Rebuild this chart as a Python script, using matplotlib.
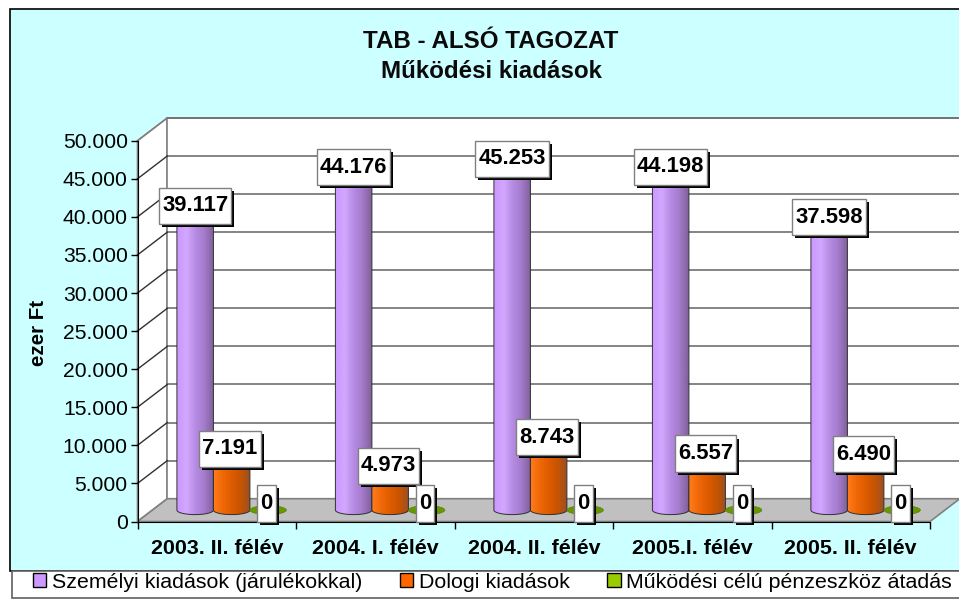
# -*- coding: utf8 -*-
"""
    TAB - also tagozat, mukodesi kiadasok (Excel style 3D cylinders)
"""
import matplotlib
matplotlib.use('Agg')
import matplotlib.pyplot as plt
from matplotlib.patches import Polygon, PathPatch, Ellipse, Patch
from matplotlib.path import Path
from matplotlib.colors import LinearSegmentedColormap
import matplotlib.patheffects as pe
import numpy as np

plt.rcParams['font.family'] = ['Liberation Sans', 'DejaVu Sans']

periods = ['2003. II. félév', '2004. I. félév', '2004. II. félév',
           '2005.I. félév', '2005. II. félév']
szemelyi = [39117, 44176, 45253, 44198, 37598]
dologi = [7191, 4973, 8743, 6557, 6490]
mukodesi = [0, 0, 0, 0, 0]
labels_sz = ['39.117', '44.176', '45.253', '44.198', '37.598']
labels_do = ['7.191', '4.973', '8.743', '6.557', '6.490']
labels_mu = ['0', '0', '0', '0', '0']
series_names = ['Személyi kiadások (járulékokkal)', 'Dologi kiadások',
                'Működési célú pénzeszköz átadás']
yticks = [0, 5000, 10000, 15000, 20000, 25000, 30000, 35000, 40000, 45000, 50000]
yticklabels = ['0', '5.000', '10.000', '15.000', '20.000', '25.000',
               '30.000', '35.000', '40.000', '45.000', '50.000']

W, H = 959, 599
fig = plt.figure(figsize=(W / 100, H / 100), dpi=100, facecolor='white')

# cyan chart area behind everything
fig.add_artist(plt.Rectangle((10 / W, 1 - 571 / H), 960 / W, 562 / H,
                             transform=fig.transFigure, fc='#CCFFFF',
                             ec='black', lw=1.2, zorder=-5))
# white strip of the legend
fig.add_artist(plt.Rectangle((12 / W, 1 - 597.5 / H), 960 / W, 26.5 / H,
                             transform=fig.transFigure, fc='white',
                             ec='#606060', lw=1.2, zorder=-4))

# front plane of the plot box
left, right, top, bottom = 137.5, 930, 140.7, 521.5
ax = fig.add_axes([left / W, 1 - bottom / H, (right - left) / W, (bottom - top) / H])
ax.set_xlim(0, 5)
ax.set_ylim(0, 50000)
ax.patch.set_alpha(0)
for s in ['top', 'right']:
    ax.spines[s].set_visible(False)

ux = 5 / (right - left)          # data units for one pixel
uy = 50000 / (bottom - top)
dx, dy = 29.8 * ux, 22.8 * uy    # depth of the box

# walls and floor
ax.add_patch(Polygon([(0, 0), (dx, dy), (dx, 50000 + dy), (0, 50000)], fc='white',
                     ec='#808080', lw=1.2, clip_on=False, zorder=1))
ax.add_patch(Polygon([(dx, dy), (5.3, dy), (5.3, 50000 + dy), (dx, 50000 + dy)], fc='white',
                     ec='#808080', lw=1.2, clip_on=False, zorder=1))
ax.add_patch(Polygon([(0, 0), (5, 0), (5 + dx, dy), (dx, dy)], fc='#C0C0C0',
                     ec='#808080', lw=1.2, clip_on=False, zorder=2))
for t in yticks[1:]:
    ax.plot([dx, 5.3], [t + dy, t + dy], color='#707070', lw=1.2, clip_on=False, zorder=1.5)
    ax.plot([0, dx], [t, t + dy], color='#303030' if t < 50000 else '#808080', lw=1,
            clip_on=False, zorder=1.5)

ax.set_yticks(yticks)
ax.set_yticklabels(yticklabels, fontsize=15.2)
ax.set_xticks(range(6))
ax.set_xticklabels([])
ax.tick_params(axis='both', length=5, width=1, color='black', pad=2)
for i, p in enumerate(periods):
    ax.text(i + 0.5, -3500, p, ha='center', va='center', fontsize=15.4, fontweight='bold')
ax.set_ylabel('ezer Ft', fontsize=14.8, fontweight='bold')
ax.yaxis.set_label_coords(-0.1135, 0.495)

fig.text(491 / W, 1 - 41 / H, 'TAB - ALSÓ TAGOZAT', ha='center', va='center',
         fontsize=17.4, fontweight='bold', color='#0a0a0a')
fig.text(491 / W, 1 - 72 / H, 'Működési kiadások', ha='center', va='center',
         fontsize=17.4, fontweight='bold', color='#0a0a0a')

# cylinders
bar_w = 36.5 * ux
eh = 4.5 * uy                    # half height of the end ellipses
base = dy / 2


def cylinder(x0, val, cmap, top_col, z):
    x1 = x0 + bar_w
    y0, y1 = base, base + val
    t = np.linspace(np.pi, 2 * np.pi, 30)
    low = np.c_[(x0 + x1) / 2 + bar_w / 2 * np.cos(t), y0 + eh * np.sin(t)]
    verts = list(low) + [(x1, y1), (x0, y1), (x0, y0)]
    clip = PathPatch(Path(verts), transform=ax.transData, fc='none', ec='none')
    ax.add_patch(clip)
    im = ax.imshow(np.linspace(0, 1, 64).reshape(1, -1), cmap=cmap, aspect='auto',
                   extent=(x0, x1, y0 - eh, y1), zorder=z, clip_on=True)
    im.set_clip_path(clip)
    ax.add_patch(PathPatch(Path(verts), fc='none', ec='#303030', lw=0.7, zorder=z + 0.1))
    ax.add_patch(Ellipse(((x0 + x1) / 2, y1), bar_w, 2 * eh, fc=top_col, ec='#303030',
                         lw=0.6, zorder=z + 0.2))


def label(x, val, txt, z=20):
    y = base + val + 6.5 * uy
    tx = ax.text(x, y, txt, ha='center', va='center', fontsize=15.8, fontweight='bold',
                 color='black', zorder=z,
                 bbox=dict(boxstyle='square,pad=0.14', mutation_aspect=2.5, lw=1,
                           fc='white', ec='#808080'))
    # black drop shadow, 3 px down and right
    tx.get_bbox_patch().set_path_effects([
        pe.SimplePatchShadow(offset=(2.2, -2.2), shadow_rgbFace='black', alpha=1),
        pe.Normal()])


purple = LinearSegmentedColormap.from_list(
    'p', ['#CC99FF', '#D2A8FF', '#B68CE4', '#A47CCC', '#84629F'], N=16)
orange = LinearSegmentedColormap.from_list(
    'o', ['#FF7A1A', '#F06808', '#DE5C00', '#C85400', '#A05020'], N=16)

for i in range(5):
    xs = i + 0.5 + dx / 2 - 1.5 * bar_w
    cylinder(xs, szemelyi[i], purple, '#B48CE0', 4)
    cylinder(xs + bar_w, dologi[i], orange, '#E66000', 5)
    ax.add_patch(Ellipse((xs + 2.5 * bar_w, base + mukodesi[i]), bar_w, 2 * eh,
                         fc='#669900', ec='#557700', lw=0.4, zorder=6))
    label(xs + 0.5 * bar_w, szemelyi[i], labels_sz[i])
    label(xs + 1.45 * bar_w, dologi[i], labels_do[i], z=21)
    label(xs + 2.45 * bar_w, mukodesi[i], labels_mu[i], z=22)

ax.set_xlim(0, 5)
ax.set_ylim(0, 50000)

# legend
handles = [Patch(fc='#CC99FF', ec='black'), Patch(fc='#FF6600', ec='black'),
           Patch(fc='#99CC00', ec='black')]
leg = fig.legend(handles, series_names, ncol=3, loc='lower left',
                 bbox_to_anchor=(27.5 / W, 1 - 597 / H), fontsize=15.4, frameon=False,
                 borderaxespad=0, handlelength=0.62, handleheight=0.62,
                 handletextpad=0.26, columnspacing=1.77, borderpad=0.25)

plt.savefig('out.png', dpi=100)
